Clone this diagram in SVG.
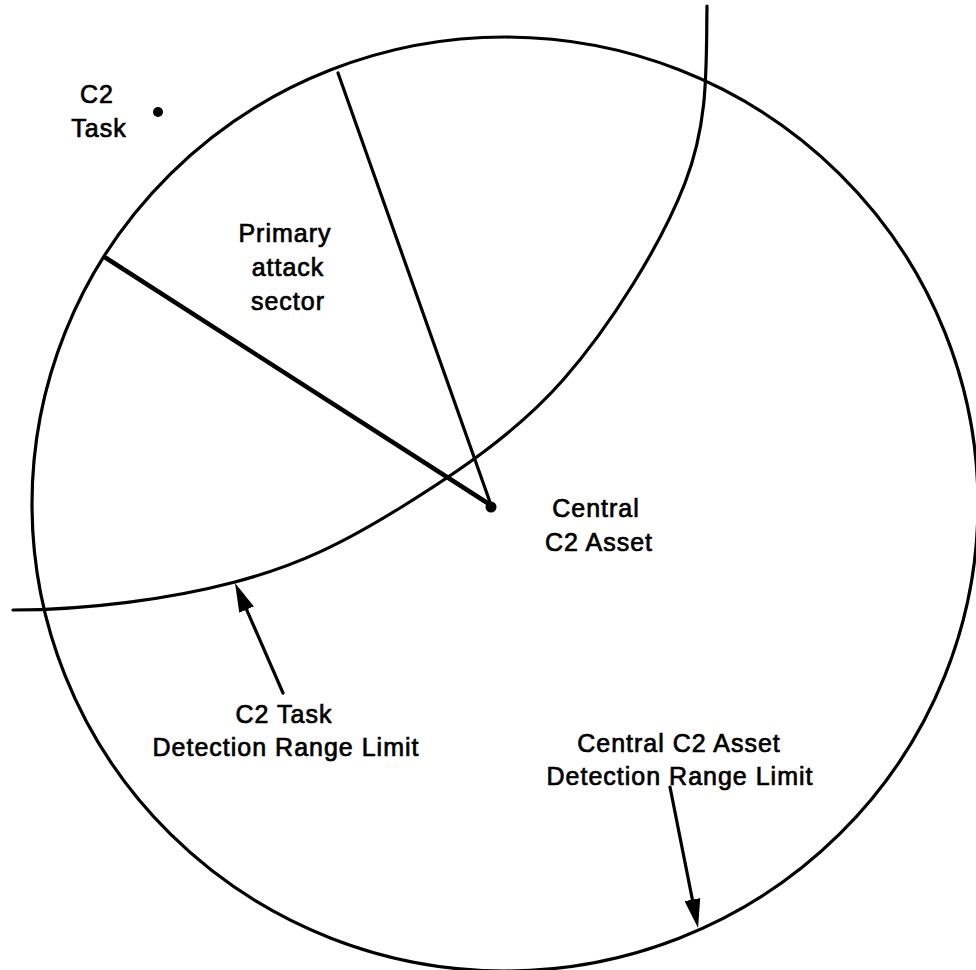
<svg xmlns="http://www.w3.org/2000/svg" width="976" height="970" viewBox="0 0 976 970">
  <style>
    .ln { fill: none; stroke: #000; stroke-width: 3.2; stroke-linecap: round; }
    .thick { stroke-width: 4.5; }
    .lbl { font-family: "Liberation Sans", Arial, Helvetica, sans-serif; font-size: 25px; letter-spacing: 1px; fill: #000; stroke: #000; stroke-width: 0.7; text-anchor: middle; }
  </style>
  <defs>
    <marker id="arrow" viewBox="0 0 29 16" refX="0" refY="8" markerWidth="29" markerHeight="16" markerUnits="userSpaceOnUse" orient="auto">
      <path d="M0,0 L29,8 L0,16 Z" fill="#000"/>
    </marker>
  </defs>
  <rect width="976" height="970" fill="#fff"/>

  <g id="central-range">
    <ellipse class="ln" cx="505" cy="504" rx="473" ry="467"/>
  </g>

  <g id="c2-task-range">
    <path class="ln" d="M707,6 C706,66 709,121 685,183 C661,245 610.5,326 563,380 C515.5,434 454.7,474 400,508 C345,542 299.5,565 235,582 C170.5,599 87,610 13,610"/>
  </g>

  <g id="primary-attack-sector">
    <line class="ln thick" x1="106" y1="258" x2="489" y2="504"/>
    <line class="ln" x1="338" y1="73" x2="491" y2="505"/>
    <text class="lbl" x="285" y="242">Primary</text>
    <text class="lbl" x="288" y="276">attack</text>
    <text class="lbl" x="288" y="310">sector</text>
  </g>

  <g id="c2-task">
    <circle cx="158" cy="112" r="5" fill="#000"/>
    <text class="lbl" x="97" y="103">C2</text>
    <text class="lbl" x="99" y="137">Task</text>
  </g>

  <g id="central-c2-asset">
    <circle cx="491" cy="507" r="5.5" fill="#000"/>
    <text class="lbl" x="596" y="517">Central</text>
    <text class="lbl" x="599" y="551">C2 Asset</text>
  </g>

  <g id="c2-task-range-label">
    <text class="lbl" x="284" y="723">C2 Task</text>
    <text class="lbl" x="286" y="756">Detection Range Limit</text>
  </g>

  <g id="central-range-label">
    <text class="lbl" x="679" y="752">Central C2 Asset</text>
    <text class="lbl" x="680" y="785">Detection Range Limit</text>
  </g>

  <g id="connectors">
    <line class="ln" x1="283" y1="693" x2="246.6" y2="609.6" marker-end="url(#arrow)"/>
    <line class="ln" x1="670" y1="787" x2="692.4" y2="899.6" marker-end="url(#arrow)"/>
  </g>
</svg>
